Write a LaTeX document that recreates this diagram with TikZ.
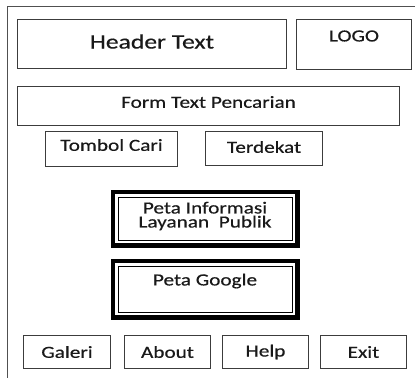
\documentclass[tikz,border=0pt]{standalone}
\usepackage{fontspec}
\setmainfont{Carlito}[FakeStretch=1.25,FakeBold=0.5]
\usetikzlibrary{calc}
\definecolor{boxgray}{HTML}{3C3C3C}
\definecolor{framegray}{HTML}{505050}
\begin{document}
\begin{tikzpicture}[x=1pt,y=-1pt,
  box/.style={draw=boxgray, line width=1.4pt, inner sep=0pt},
  thinbox/.style={draw=black, line width=1pt, inner sep=0pt},
  thickframe/.style={draw=black, line width=4.8pt},
  txt/.style={inner sep=0pt, font=\fontsize{17}{14}\selectfont, align=center, text=black!90},
  bigtxt/.style={inner sep=0pt, font=\fontsize{20.5}{22}\selectfont, text=black!90},
  ]
\useasboundingbox (0,0) rectangle (418,378);
% outer frame (top and left edges only)
\coordinate (ftr) at (415,6.5);
\coordinate (ftl) at (7.8,6.5);
\coordinate (fbl) at (7.8,378);
\draw[framegray, line width=1.3pt] (ftr) -- (ftl) -- (fbl);

% header and logo
\node[box, minimum width=269, minimum height=49] (header) at (152,44) {};
\node[bigtxt] (headert) at (152,41.5) {Header Text};
\node[box, minimum width=115, minimum height=50] (logo) at (354,44.5) {};
\node[txt] (logot) at (354,36) {LOGO};

% search form
\node[box, minimum width=382, minimum height=39] (form) at (208.5,106) {};
\node[txt] (formt) at (208.5,102) {Form Text Pencarian};

% buttons
\node[box, minimum width=132, minimum height=35] (cari) at (111.5,149) {};
\node[txt] (carit) at (111.5,145) {Tombol Cari};
\node[box, minimum width=117, minimum height=34] (dekat) at (264,148.5) {};
\node[txt] (dekatt) at (264,147) {Terdekat};

% map 1
\node[thinbox, minimum width=174, minimum height=43] (peta) at (205,218.5) {};
\draw[thickframe] ($(peta.north west)+(-4.6,-4.6)$) rectangle ($(peta.south east)+(4.6,4.6)$);
\node[txt] (petat) at (205,216) {Peta Informasi\\Layanan\ \ Publik};

% map 2
\node[thinbox, minimum width=174, minimum height=46] (google) at (205,289) {};
\draw[thickframe] ($(google.north west)+(-4.6,-4.6)$) rectangle ($(google.south east)+(4.6,4.6)$);
\node[txt] (googlet) at (205,281) {Peta Google};

% bottom menu
\node[box, minimum width=87, minimum height=33] (galeri) at (67,352) {};
\node[txt] (galerit) at (67,352) {Galeri};
\node[box, minimum width=86, minimum height=33] (about) at (167.5,352) {};
\node[txt] (aboutt) at (167.5,352) {About};
\node[box, minimum width=86, minimum height=33] (help) at (265.5,352) {};
\node[txt] (helpt) at (265.5,352) {Help};
\node[box, minimum width=86, minimum height=33] (exit) at (363.5,352) {};
\node[txt] (exitt) at (363.5,352) {Exit};
\end{tikzpicture}
\end{document}
